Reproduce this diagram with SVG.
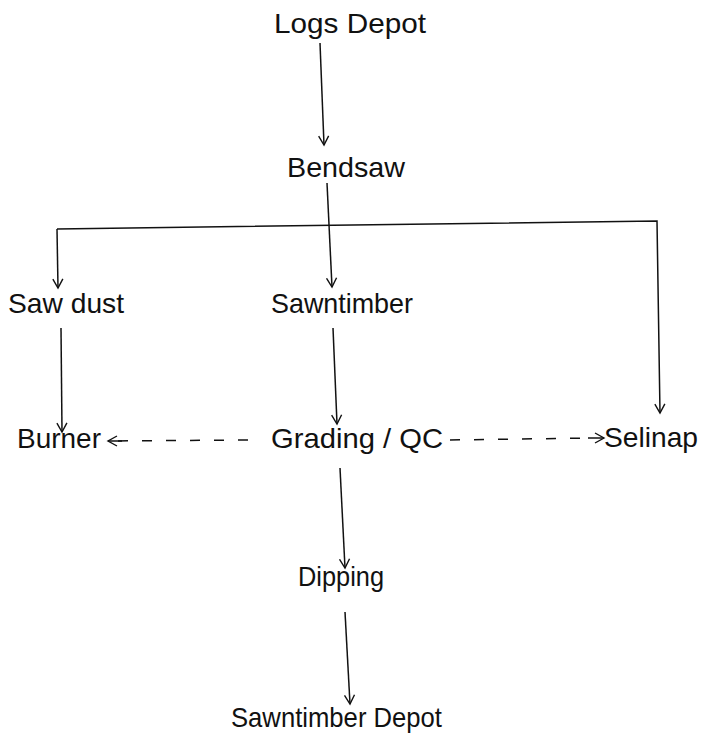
<svg xmlns="http://www.w3.org/2000/svg" width="702" height="738" viewBox="0 0 702 738">
<style>
text{font-family:"Liberation Sans",Arial,sans-serif;font-size:28px;fill:#111}
.c{stroke:#111;stroke-width:1.5;fill:none}
.d{stroke-dasharray:10 14}
</style>
<defs>
<marker id="a" viewBox="-10 -6 12 12" markerWidth="12" markerHeight="12" refX="0" refY="0" orient="auto" markerUnits="userSpaceOnUse">
<path d="M-9,-5 L0,0 L-9,5" fill="none" stroke="#111" stroke-width="1.4"/>
</marker>
</defs>
<rect width="702" height="738" fill="#fff"/>
<g id="connectors">
<path class="c" d="M320,43 L324,145" marker-end="url(#a)"/>
<path class="c" d="M327,183 L332,287" marker-end="url(#a)"/>
<path class="c" d="M57,229 L657,221 L660,413" marker-end="url(#a)"/>
<path class="c" d="M57,229 L58,288" marker-end="url(#a)"/>
<path class="c" d="M61,328 L62,432" marker-end="url(#a)"/>
<path class="c" d="M333,328 L337,424" marker-end="url(#a)"/>
<path class="c d" d="M248,440 L110,441"/>
<path class="c" d="M122,441 L108,441" marker-end="url(#a)"/>
<path class="c d" d="M450,440 L590,438"/>
<path class="c" d="M588,438 L604,438" marker-end="url(#a)"/>
<path class="c" d="M340,468 L345,568" marker-end="url(#a)"/>
<path class="c" d="M345,612 L350,704" marker-end="url(#a)"/>
</g>
<g id="logs-depot"><text x="274" y="33" textLength="152" lengthAdjust="spacingAndGlyphs">Logs Depot</text></g>
<g id="bendsaw"><text x="287" y="177" textLength="118" lengthAdjust="spacingAndGlyphs">Bendsaw</text></g>
<g id="saw-dust"><text x="8" y="313" textLength="116" lengthAdjust="spacingAndGlyphs">Saw dust</text></g>
<g id="sawntimber"><text x="271" y="313" textLength="142" lengthAdjust="spacingAndGlyphs">Sawntimber</text></g>
<g id="burner"><text x="17" y="448" textLength="84" lengthAdjust="spacingAndGlyphs">Burner</text></g>
<g id="grading-qc"><text x="271" y="448" textLength="172" lengthAdjust="spacingAndGlyphs">Grading / QC</text></g>
<g id="selinap"><text x="604" y="447" textLength="94" lengthAdjust="spacingAndGlyphs">Selinap</text></g>
<g id="dipping"><text x="298" y="586" textLength="86" lengthAdjust="spacingAndGlyphs">Dipping</text></g>
<g id="sawntimber-depot"><text x="231" y="727" textLength="211" lengthAdjust="spacingAndGlyphs">Sawntimber Depot</text></g>
</svg>
